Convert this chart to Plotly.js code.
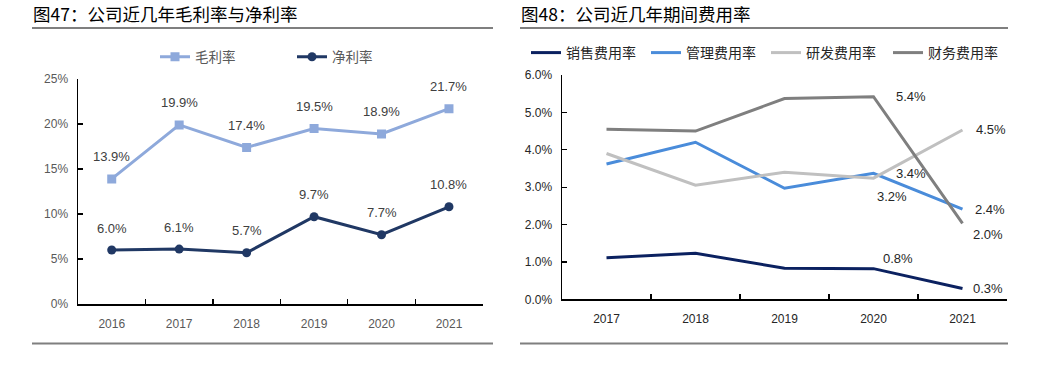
<!DOCTYPE html>
<html>
<head>
<meta charset="utf-8">
<script src="https://cdn.plot.ly/plotly-3.0.1.min.js"></script>
<style>
html,body{margin:0;padding:0;background:#fff;}
#chart{width:1047px;height:365px;}
</style>
</head>
<body>
<div id="chart"></div>
<script>
// ---- Data: left chart (图47) ----
const yearsL = ['2016','2017','2018','2019','2020','2021'];
const grossMargin = [13.9, 19.9, 17.4, 19.5, 18.9, 21.7];   // 毛利率 %
const netMargin   = [6.0, 6.1, 5.7, 9.7, 7.7, 10.8];        // 净利率 %
const leftTickVals = [0, 5, 10, 15, 20, 25];
const leftTickText = ['0%','5%','10%','15%','20%','25%'];

// ---- Data: right chart (图48) ----
const yearsR = ['2017','2018','2019','2020','2021'];
const sellingRate = [1.11, 1.23, 0.83, 0.82, 0.29];   // 销售费用率 %
const adminRate   = [3.62, 4.20, 2.97, 3.37, 2.41];   // 管理费用率 %
const rdRate      = [3.90, 3.05, 3.40, 3.24, 4.53];   // 研发费用率 %
const financeRate = [4.55, 4.50, 5.37, 5.42, 2.03];   // 财务费用率 %
const rightTickVals = [0, 1, 2, 3, 4, 5, 6];
const rightTickText = ['0.0%','1.0%','2.0%','3.0%','4.0%','5.0%','6.0%'];

const W = 1047, H = 365;
const px = v => v / W;
const py = v => 1 - v / H;

const numFont = 'Liberation Sans, Arial, Noto Sans CJK SC, sans-serif';
const cjkFont = 'Noto Sans CJK SC, sans-serif';

const traces = [
  {x: yearsL, y: grossMargin, name: '毛利率', type: 'scatter', mode: 'lines+markers',
   xaxis: 'x', yaxis: 'y', legend: 'legend',
   line: {color: '#8EA9DB', width: 3}, marker: {symbol: 'square', size: 9, color: '#8EA9DB'}},
  {x: yearsL, y: netMargin, name: '净利率', type: 'scatter', mode: 'lines+markers',
   xaxis: 'x', yaxis: 'y', legend: 'legend2',
   line: {color: '#203864', width: 3}, marker: {symbol: 'circle', size: 9, color: '#203864'}},
  {x: yearsR, y: sellingRate, name: '销售费用率', type: 'scatter', mode: 'lines',
   xaxis: 'x2', yaxis: 'y2', legend: 'legend3', line: {color: '#0B2160', width: 3}},
  {x: yearsR, y: adminRate, name: '管理费用率', type: 'scatter', mode: 'lines',
   xaxis: 'x2', yaxis: 'y2', legend: 'legend4', line: {color: '#4A8CDA', width: 3}},
  {x: yearsR, y: rdRate, name: '研发费用率', type: 'scatter', mode: 'lines',
   xaxis: 'x2', yaxis: 'y2', legend: 'legend5', line: {color: '#C0C0C0', width: 3}},
  {x: yearsR, y: financeRate, name: '财务费用率', type: 'scatter', mode: 'lines',
   xaxis: 'x2', yaxis: 'y2', legend: 'legend6', line: {color: '#7F7F7F', width: 3}}
];

const annotations = [];
// Titles
annotations.push({text: '图47：公司近几年毛利率与净利率', xref: 'paper', yref: 'paper',
  x: px(31), y: py(14), xanchor: 'left', yanchor: 'middle', showarrow: false,
  font: {family: cjkFont, size: 17.5, color: '#000'}});
annotations.push({text: '图48：公司近几年期间费用率', xref: 'paper', yref: 'paper',
  x: px(519), y: py(14), xanchor: 'left', yanchor: 'middle', showarrow: false,
  font: {family: cjkFont, size: 17.5, color: '#000'}});

// Left data labels (all above points); x given as category index
const fmt = v => v.toFixed(1) + '%';
[grossMargin, netMargin].forEach(series => {
  series.forEach((v, i) => {
    annotations.push({x: yearsL.indexOf(yearsL[i]), y: v, xref: 'x', yref: 'y', text: fmt(v),
      showarrow: false, yshift: 22, xanchor: 'center', yanchor: 'middle',
      font: {family: numFont, size: 13, color: '#404040'}});
  });
});

// Right data labels: only last two years, with offsets per series
const rightLabelSpec = [
  {series: financeRate, shifts: {3: [37, 0], 4: [25, -11]}},
  {series: rdRate,      shifts: {3: [18, -18], 4: [28, 0]}},
  {series: adminRate,   shifts: {3: [37, 0], 4: [27, 0]}},
  {series: sellingRate, shifts: {3: [24, 10], 4: [25, 0]}}
];
rightLabelSpec.forEach(spec => {
  Object.keys(spec.shifts).forEach(k => {
    const i = +k, s = spec.shifts[k], v = spec.series[i];
    annotations.push({x: yearsR.indexOf(yearsR[i]), y: v, xref: 'x2', yref: 'y2', text: fmt(v),
      showarrow: false, xshift: s[0], yshift: s[1], xanchor: 'center', yanchor: 'middle',
      font: {family: numFont, size: 13, color: '#262626'}});
  });
});

const shapes = [
  {type: 'line', xref: 'paper', yref: 'paper', x0: px(32), x1: px(493), y0: py(28), y1: py(28), line: {color: '#7F7F7F', width: 2}},
  {type: 'line', xref: 'paper', yref: 'paper', x0: px(520), x1: px(1008), y0: py(28), y1: py(28), line: {color: '#7F7F7F', width: 2}},
  {type: 'line', xref: 'paper', yref: 'paper', x0: px(32), x1: px(493), y0: py(343.5), y1: py(343.5), line: {color: '#7F7F7F', width: 2}},
  {type: 'line', xref: 'paper', yref: 'paper', x0: px(520), x1: px(1008), y0: py(343.5), y1: py(343.5), line: {color: '#7F7F7F', width: 2}}
];

const legendBase = (xLeft, yMid, size, color) => ({
  orientation: 'h', x: px(xLeft), y: py(yMid), xanchor: 'left', yanchor: 'middle',
  bgcolor: 'rgba(0,0,0,0)', borderwidth: 0,
  font: {family: cjkFont, size: size, color: color}
});

const axisCommon = {
  showline: true, linecolor: '#000', linewidth: 1.5, showgrid: false, zeroline: false,
  ticks: 'inside', tickcolor: '#000', ticklen: 5, tickwidth: 1.2, fixedrange: true
};

const layout = {
  width: W, height: H,
  margin: {l: 0, r: 0, t: 0, b: 0},
  paper_bgcolor: '#fff', plot_bgcolor: '#fff',
  showlegend: true,
  xaxis: Object.assign({}, axisCommon, {
    domain: [px(78), px(482.7)], anchor: 'y', type: 'category', range: [-0.5, 5.5],
    tickson: 'boundaries', tickfont: {family: numFont, size: 12, color: '#595959'}, ticklabelstandoff: 8
  }),
  yaxis: Object.assign({}, axisCommon, {
    domain: [1 - 304 / H, 1 - 79 / H], anchor: 'x', range: [0, 25],
    tickvals: leftTickVals, ticktext: leftTickText,
    tickfont: {family: numFont, size: 12, color: '#595959'}, ticklabelstandoff: 6
  }),
  xaxis2: Object.assign({}, axisCommon, {
    domain: [px(562), px(1007)], anchor: 'y2', type: 'category', range: [-0.5, 4.5],
    tickson: 'boundaries', tickfont: {family: numFont, size: 12, color: '#262626'}, ticklabelstandoff: 8
  }),
  yaxis2: Object.assign({}, axisCommon, {
    domain: [1 - 299.3 / H, 1 - 75 / H], anchor: 'x2', range: [0, 6],
    tickvals: rightTickVals, ticktext: rightTickText,
    tickfont: {family: numFont, size: 12, color: '#262626'}, ticklabelstandoff: 6
  }),
  legend:  legendBase(155, 57, 13.5, '#595959'),
  legend2: legendBase(292, 57, 13.5, '#595959'),
  legend3: legendBase(526, 53, 14, '#262626'),
  legend4: legendBase(646, 53, 14, '#262626'),
  legend5: legendBase(766, 53, 14, '#262626'),
  legend6: legendBase(888, 53, 14, '#262626'),
  annotations: annotations,
  shapes: shapes
};

Plotly.newPlot('chart', traces, layout, {staticPlot: true, displayModeBar: false});
</script>
</body>
</html>
